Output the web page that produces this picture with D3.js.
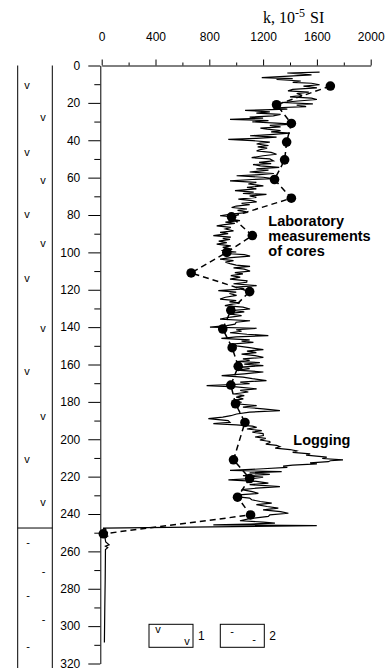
<!DOCTYPE html>
<html>
<head>
<meta charset="utf-8">
<script src="https://cdn.jsdelivr.net/npm/d3@7"></script>
<style>
  body { margin: 0; background: #fff; }
  svg { display: block; }
</style>
</head>
<body>
<svg id="chart" width="387" height="668"></svg>
<script>
// k axis (top) and depth axis (left)
const kTicks = [0, 400, 800, 1200, 1600, 2000]
const kMinorTicks = [200, 600, 1000, 1400, 1800]
const depthTicks = [0, 20, 40, 60, 80, 100, 120, 140, 160, 180, 200, 220, 240, 260, 280, 300, 320]
const depthMinorTicks = [10, 30, 50, 70, 90, 110, 130, 150, 170, 190, 210, 230, 250, 270, 290, 310]

// laboratory measurements of cores: [depth, k]
const cores = [
  [11, 1700], [21, 1300], [31, 1410], [41, 1375], [50.5, 1360], [61, 1285], [71, 1410],
  [81, 965], [91, 1120], [100, 930], [111, 665], [121, 1100], [131, 960], [141, 900],
  [151, 970], [161, 1015], [171, 960], [181, 995], [191, 1065], [211, 980], [221, 1100],
  [231, 1010], [240.5, 1107], [250.6, 12]
]

// logging curve: [depth, k]
const logging = [
  [3.5, 1620], [4, 1380], [5, 1560], [6.5, 1190], [7, 1420], [7.5, 1300], [8.3, 1480], [9, 1420],
  [9.5, 1560], [10.3, 1620], [11, 1500], [12, 1600], [12.8, 1420], [13.6, 1385], [14.2, 1540],
  [15, 1450], [16, 1490], [16.8, 1400], [17.5, 1560], [18.2, 1600], [19, 1460], [19.8, 1340],
  [20.5, 1570], [21.2, 1450], [22, 1520], [22.6, 1300], [23.3, 1380], [24, 1066], [24.8, 1250],
  [25.5, 1150], [26.2, 1330], [27, 1276], [27.6, 1100], [28.2, 1200], [28.8, 954], [29.5, 1240],
  [30.2, 1120], [30.8, 1300], [31.4, 1425], [32, 1250], [32.8, 1330], [33.5, 1180], [34, 1230],
  [34.8, 1330], [35.5, 1260], [36.2, 1400], [37, 1250], [37.6, 1103], [38.3, 1300], [39, 1150],
  [39.5, 941], [40.2, 1120], [41, 1250], [41.5, 1180], [42, 1152], [42.8, 1240], [43.5, 1160],
  [44.2, 1230], [45, 1180], [45.7, 1152], [46.5, 1260], [47.5, 1300], [48.3, 1200], [49.3, 1115],
  [50, 1250], [51, 1276], [51.8, 1170], [52.5, 1260], [53, 1125],
  [53.7, 1180], [54.5, 1320], [55.3, 1150], [56, 1240], [57, 1100], [57.8, 1280], [58.5, 1150],
  [59, 1003], [59.8, 1200], [60.5, 1276], [61, 1120], [61.7, 954], [62.5, 1150], [63.4, 1090],
  [64.4, 1202], [65.2, 1080], [66, 1150], [67, 991], [67.8, 1130], [68.5, 1050], [69, 1225],
  [69.8, 1100], [70.6, 1150], [71.5, 1016], [72.3, 1120], [73, 1152], [73.8, 1040], [74.5, 1100],
  [75.2, 1000], [76, 966], [76.8, 1080], [77.5, 1010], [78.2, 1070], [78.7, 1078], [79.5, 960],
  [80.4, 880], [81.2, 1000], [82, 940], [83, 1028], [83.8, 920], [84.5, 990], [85.3, 900],
  [85.8, 855], [86.6, 960], [87.5, 920], [88.5, 980], [89.3, 880], [90, 940], [91, 830],
  [91.8, 960], [92.5, 900], [93, 954], [94, 870], [94.8, 930], [95.6, 855], [96.5, 960],
  [97.3, 900], [98.3, 966], [99, 890], [99.8, 1000], [100.6, 920], [101.2, 1060], [102, 1103],
  [102.8, 960], [103.6, 880], [104.4, 980], [105.2, 920], [106, 954], [106.8, 1000],
  [107.5, 1103], [108.3, 980], [109, 1060], [110, 1103], [110.8, 990], [111.5, 1050], [112.4, 960],
  [113.2, 1030], [114.3, 954], [115.2, 1080], [116, 1078], [116.8, 980], [117.8, 1152], [118.6, 1000],
  [119.5, 1060], [120.5, 867], [121.3, 1000], [122, 950], [123, 1003], [124, 920], [125, 880],
  [125.8, 1000], [126.5, 950], [127, 1028], [127.8, 960], [128.5, 916], [129.3, 1050], [130.3, 1103],
  [131, 980], [131.8, 1060], [132.5, 970], [133, 954], [133.8, 1040], [134.6, 960], [135.7, 880],
  [136.6, 1103], [137.4, 1000], [138.4, 991], [139.2, 930], [140, 805], [140.6, 1152], [141.4, 1000],
  [142.2, 1040], [143, 954], [143.8, 1080], [144.5, 1239], [145.2, 1000], [146, 890], [146.8, 1100],
  [147.5, 1040], [148.2, 1128], [149, 980], [150, 1003], [151, 1100], [152, 1202], [152.8, 1080],
  [153.6, 1150], [154.4, 1040], [155.3, 1140], [156.2, 1202], [157, 1050], [157.8, 1100],
  [158.4, 1003], [159, 1176],
  [159.8, 1060], [160.6, 1202], [161.4, 1030], [162.2, 1100], [163, 1000], [164, 1202], [165, 1060],
  [166, 892], [166.8, 1050], [167.6, 1120], [168.6, 1225], [169.4, 1030], [170.3, 1100], [171.3, 780],
  [172, 1000], [173, 1152], [173.8, 1030], [174.7, 1090], [175.8, 978], [176.7, 1060], [177.5, 1000],
  [178.4, 1053], [179.3, 980], [180.2, 1040], [181, 1000], [182, 1152], [182.8, 1050], [183.7, 1200],
  [184.7, 1325], [185.5, 1100], [186.5, 1003], [187.4, 960], [188.2, 900], [189, 793], [190, 940],
  [191, 954], [191.6, 830], [192.3, 1000], [193, 1120], [193.6, 1152], [194.5, 1080], [195.4, 1190],
  [196.2, 1120], [197, 1200], [198, 1202], [198.8, 1140], [199.5, 1220], [200.4, 1176], [201.2, 1250],
  [201.8, 1251], [202.6, 1220], [203.3, 1300], [204, 1325], [204.8, 1290], [205.5, 1400],
  [206.2, 1450], [207, 1420], [207.8, 1550], [208.5, 1520], [209.6, 1673], [210.3, 1640],
  [211, 1794], [211.5, 1700], [212, 1685],
  [212.6, 1549], [213.2, 1600], [213.8, 1420], [214.4, 1349], [215, 1380], [215.8, 1200],
  [216.7, 954], [217.3, 1338], [218, 1100], [218.8, 1250], [219.5, 1050], [220.3, 1200],
  [221, 1120], [221.7, 942], [222.5, 1150], [223.5, 1239], [224.3, 1100], [225.3, 1325],
  [226.2, 1150], [227, 1040], [228, 1120], [229, 1165], [229.8, 1020], [230.6, 980], [231.5, 1100],
  [232.4, 1115], [233.3, 1180], [234.2, 1264], [235, 1150], [236, 1230], [236.9, 1313],
  [237.8, 1200], [238.7, 1330], [239.6, 1388], [240.5, 1250], [241.3, 1239], [242.5, 1100],
  [243.6, 1028], [244.3, 1200], [244.9, 1288], [245.4, 1100], [245.8, 830], [246.2, 1599],
  [247.6, 10], [248.2, 30], [249, 15], [249.8, 40], [250.8, 18], [251.8, 45], [253, 25],
  [255, 30], [256.5, 55], [257.2, 28], [258, 45], [259, 28], [275, 26], [290, 23], [308.7, 20]
]

// lithology column: volcanic rocks (1) above, sediments (2) below
const volcanicDepths = [11, 28, 47, 62, 80, 95.4, 114.6, 141, 164, 188, 211, 234]
const sedimentDepths = [256.6, 272, 285, 298, 312]
const boundaryDepth = 247.5
const legendLabels = ['1', '2']
const labLines = ['Laboratory', 'measurements', 'of cores']

const svg = d3.select('#chart')
const font = 'Arial, "Liberation Sans", Helvetica, sans-serif'

svg.append('rect').attr('width', 387).attr('height', 668).attr('fill', '#fff')

const x = d3.scaleLinear().domain([0, 2000]).range([101.7, 370.7])
const y = d3.scaleLinear().domain([0, 320]).range([65.5, 663.5])

// top axis
const xAxis = svg.append('g')
  .attr('transform', `translate(0,${y(0)})`)
  .call(d3.axisTop(x).tickValues(kTicks).tickFormat(d3.format('d'))
    .tickSizeInner(6).tickSizeOuter(0).tickPadding(19))
xAxis.append('g')
  .call(d3.axisTop(x).tickValues(kMinorTicks).tickSize(3).tickFormat(''))
  .select('.domain').remove()

// left axis
const yAxis = svg.append('g')
  .attr('transform', `translate(100.3,0)`)
  .call(d3.axisLeft(y).tickValues(depthTicks).tickFormat(d3.format('d'))
    .tickSizeInner(12).tickSizeOuter(0).tickPadding(8))
yAxis.append('g')
  .call(d3.axisLeft(y).tickValues(depthMinorTicks).tickSize(6).tickFormat(''))
  .select('.domain').remove()

svg.selectAll('.tick text').attr('font-family', font).attr('font-size', 12).attr('fill', '#000')
svg.selectAll('.domain, .tick line').attr('stroke', '#000').attr('stroke-width', 1)

// title
const title = svg.append('text')
  .attr('x', 263).attr('y', 22.5)
  .attr('font-family', '"Liberation Serif", "Times New Roman", serif')
  .attr('font-size', 16)
title.append('tspan').text('k, 10')
title.append('tspan').attr('dy', -6).attr('font-size', 12).text('-5')
title.append('tspan').attr('dy', 6).attr('dx', 1).text(' SI')

// lithology column
const litho = svg.append('g')
litho.append('line').attr('x1', 17.7).attr('x2', 17.7).attr('y1', y(0)).attr('y2', 668).attr('stroke', '#000')
litho.append('line').attr('x1', 52.3).attr('x2', 52.3).attr('y1', y(0)).attr('y2', 668).attr('stroke', '#000')
litho.append('line').attr('x1', 17.7).attr('x2', 52.3)
  .attr('y1', y(boundaryDepth)).attr('y2', y(boundaryDepth)).attr('stroke', '#000')

litho.selectAll('.vmark').data(volcanicDepths).join('text')
  .attr('class', 'vmark')
  .attr('x', (d, i) => i % 2 === 0 ? 27 : 43)
  .attr('y', d => y(d)).attr('dy', '0.25em')
  .attr('text-anchor', 'middle')
  .attr('font-family', font).attr('font-size', 11)
  .text('v')
litho.selectAll('.smark').data(sedimentDepths).join('text')
  .attr('class', 'smark')
  .attr('x', (d, i) => i % 2 === 0 ? 28 : 43.5)
  .attr('y', d => y(d)).attr('dy', '0.1em')
  .attr('text-anchor', 'middle')
  .attr('font-family', font).attr('font-size', 11)
  .text('-')

// logging curve
const line = d3.line().x(d => x(d[1])).y(d => y(d[0]))
svg.append('path')
  .datum(logging)
  .attr('d', line)
  .attr('fill', 'none')
  .attr('stroke', '#000')
  .attr('stroke-width', 1.2)
  .attr('stroke-linejoin', 'miter')

// cores
svg.append('path')
  .datum(cores)
  .attr('d', line)
  .attr('fill', 'none')
  .attr('stroke', '#000')
  .attr('stroke-width', 1.5)
  .attr('stroke-dasharray', '6,4')
svg.selectAll('.core').data(cores).join('circle')
  .attr('class', 'core')
  .attr('cx', d => x(d[1])).attr('cy', d => y(d[0]))
  .attr('r', 4.8)
  .attr('fill', '#000')

// annotations
svg.selectAll('.lab').data(labLines).join('text')
  .attr('class', 'lab')
  .attr('x', 268.3).attr('y', (d, i) => 226 + i * 14.8)
  .attr('font-family', font).attr('font-size', 14.5).attr('font-weight', 'bold')
  .text(d => d)
svg.append('text')
  .attr('x', 293.3).attr('y', 445)
  .attr('font-family', font).attr('font-size', 14.5).attr('font-weight', 'bold')
  .text('Logging')

// legend
const legend = svg.append('g')
const boxes = [{ x0: 149, sym: 'v', sx: [158, 187], sy: [630, 642] }, { x0: 220.3, sym: '-', sx: [232, 254], sy: [632, 640] }]
boxes.forEach((b, i) => {
  legend.append('rect')
    .attr('x', b.x0).attr('y', 624.3).attr('width', 44).attr('height', 23)
    .attr('fill', 'none').attr('stroke', '#000')
  b.sx.forEach((sx, j) => {
    legend.append('text')
      .attr('x', sx).attr('y', b.sy[j]).attr('dy', '0.25em')
      .attr('text-anchor', 'middle')
      .attr('font-family', font).attr('font-size', 11)
      .text(b.sym)
  })
  legend.append('text')
    .attr('x', b.x0 + 49).attr('y', 640)
    .attr('font-family', font).attr('font-size', 12)
    .text(legendLabels[i])
})
</script>
</body>
</html>
